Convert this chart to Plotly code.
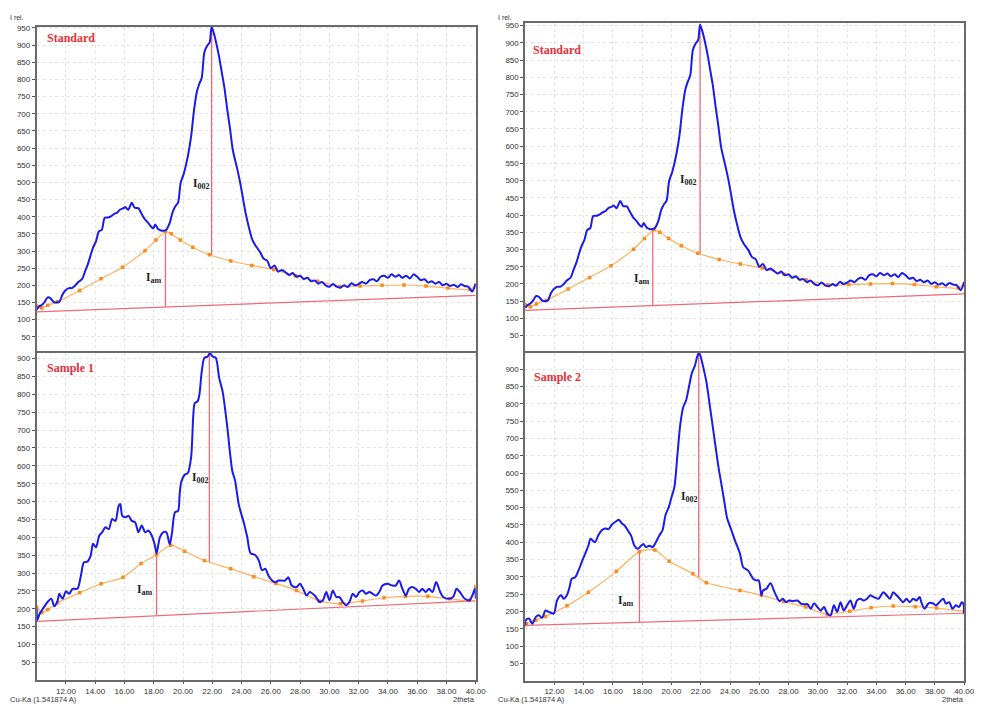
import plotly.graph_objects as go

# ---------------- data ----------------
std_x = [10.0,10.15,10.35,10.55,10.75,10.95,11.15,11.35,11.55,11.75,11.95,12.2,12.4,12.6,12.85,13.1,13.3,13.5,13.7,13.85,
         14.05,14.25,14.45,14.65,14.9,15.1,15.3,15.5,15.7,15.9,16.05,16.25,16.5,16.7,16.95,17.15,17.4,17.6,17.8,17.97,
         18.1,18.3,18.55,18.85,19.1,19.3,19.5,19.66,19.84,20.05,20.33,20.55,20.75,20.95,21.12,21.28,21.46,21.65,21.82,21.95,
         22.1,22.25,22.47,22.65,22.82,23.03,23.2,23.4,23.7,23.9,24.05,24.27,24.45,24.72,24.95,25.28,25.5,25.75,26.0,26.25,
         26.5,26.75,27.0,27.25,27.5,27.75,28.0,28.25,28.5,28.75,29.0,29.25,29.5,29.75,30.0,30.25,30.5,30.75,31.0,31.25,
         31.5,31.75,32.0,32.25,32.5,32.75,33.0,33.25,33.5,33.75,34.0,34.25,34.5,34.75,35.0,35.25,35.5,35.75,36.0,36.25,
         36.5,36.75,37.0,37.25,37.5,37.75,38.0,38.25,38.5,38.75,39.0,39.25,39.5,39.75,40.0]
std_y = [130,138,143,152,165,162,152,150,152,172,185,192,192,198,210,218,240,262,290,310,
         328,357,362,397,398,402,408,412,421,424,428,420,441,426,425,410,392,383,372,366,
         377,364,359,362,383,415,432,441,499,525,576,633,710,765,788,805,879,898,908,953,
         935,910,865,820,778,710,660,595,540,500,465,412,378,335,316,296,278,272,250,258,
         240,245,238,230,236,225,228,218,222,212,214,205,210,200,196,204,196,193,200,195,
         206,200,204,210,205,215,218,212,225,228,222,232,225,230,222,228,220,232,225,215,
         218,208,212,205,210,200,205,198,202,195,203,198,196,182,205]
std_bg_x = [10.0,10.35,10.76,11.43,12.94,14.4,15.87,17.4,18.15,18.8,19.2,19.81,20.67,21.8,23.26,24.7,26.2,27.7,29.2,30.7,32.1,33.6,35.1,36.6,38.1,39.6,40.0]
std_bg_y = [140,134,142,152,185,219,253,301,332,357,350,332,311,289,271,258,246,228,212,197,198,200,201,198,192,188,200]
std_base = [123, 171]
std_iam = [18.8, 137, 357]
std_i002 = [21.95, 287, 953]

s1_x = [10.0,10.04,10.2,10.42,10.65,10.99,11.21,11.43,11.55,11.77,12.0,12.22,12.45,12.78,13.0,13.23,13.46,13.69,13.85,14.05,
        14.28,14.47,14.7,14.93,15.15,15.38,15.6,15.71,15.85,16.05,16.28,16.5,16.73,16.95,17.18,17.41,17.63,17.86,18.08,18.19,
        18.42,18.64,18.86,19.09,19.25,19.45,19.66,19.77,19.88,20.11,20.33,20.55,20.7,20.8,21.0,21.12,21.28,21.46,21.68,21.84,
        22.02,22.24,22.47,22.7,23.03,23.2,23.37,23.55,23.82,24.16,24.39,24.61,24.95,25.18,25.4,25.62,25.85,26.07,26.3,26.53,
        26.75,26.97,27.2,27.43,27.76,27.99,28.21,28.44,28.66,29.0,29.34,29.56,29.79,30.01,30.24,30.47,30.69,30.92,31.14,31.37,
        31.6,31.82,32.05,32.28,32.5,32.73,32.96,33.18,33.41,33.63,33.97,34.31,34.53,34.76,34.99,35.22,35.44,35.67,35.9,36.13,
        36.35,36.58,36.81,37.04,37.3,37.57,37.78,38.12,38.46,38.69,38.91,39.25,39.59,39.81,39.95,40.0]
s1_y = [200,168,186,200,214,228,207,223,242,228,249,242,256,256,288,330,332,349,382,372,
        405,414,428,423,451,446,488,493,460,456,460,446,442,414,433,414,419,405,377,355,
        400,414,414,380,414,470,474,521,555,575,580,623,740,775,781,800,864,902,906,915,
        906,902,846,809,707,640,585,560,490,440,400,356,350,335,308,312,292,280,274,279,
        279,279,288,265,261,270,256,237,247,237,219,224,247,224,251,233,233,219,210,219,
        242,233,247,251,242,247,242,237,247,265,270,265,265,279,256,237,256,261,256,247,
        256,247,256,247,275,247,233,228,233,256,247,228,224,242,256,228]
s1_bg_x = [10.0,10.35,10.76,11.43,12.94,14.4,15.9,17.13,18.19,19.16,20.11,21.46,23.26,24.84,26.35,27.76,29.3,30.76,32.27,33.74,35.2,36.73,38.24,39.59,40.0]
s1_bg_y = [204,189,198,217,245,270,288,327,351,378,361,335,312,290,271,251,222,214,222,231,235,235,228,224,261]
s1_base = [165, 222]
s1_iam = [18.19, 181, 351]
s1_i002 = [21.8, 331, 915]

s2_x = [10.0,10.04,10.26,10.49,10.72,10.94,11.16,11.39,11.61,11.95,12.18,12.45,12.63,12.85,13.03,13.19,13.42,13.64,13.86,14.09,
        14.32,14.47,14.77,14.99,15.22,15.45,15.7,15.95,16.2,16.4,16.6,16.8,17.02,17.24,17.47,17.7,17.92,18.08,18.26,18.49,
        18.71,18.93,19.16,19.38,19.6,19.8,20.0,20.2,20.4,20.6,20.8,21.0,21.2,21.4,21.6,21.75,21.88,22.0,22.2,22.4,
        22.6,22.8,23.0,23.2,23.4,23.6,23.8,24.1,24.34,24.68,24.9,25.24,25.58,25.8,25.96,26.14,26.26,26.49,26.77,27.04,
        27.38,27.61,27.83,28.05,28.28,28.62,28.84,29.07,29.3,29.52,29.74,29.97,30.2,30.42,30.65,30.87,31.1,31.32,31.55,31.77,
        32.0,32.23,32.45,32.68,32.9,33.13,33.36,33.59,33.81,34.15,34.47,34.7,34.93,35.15,35.38,35.6,35.83,36.06,36.28,36.51,
        36.73,36.96,37.07,37.29,37.58,37.85,38.08,38.3,38.57,38.75,38.98,39.2,39.43,39.65,39.83,39.94,40.0]
s2_y = [160,175,180,165,184,189,182,203,199,194,232,247,237,247,270,295,299,318,342,366,
        390,410,400,419,434,440,438,452,460,465,455,448,434,419,390,381,390,395,386,390,
        386,400,419,434,480,500,530,560,650,740,790,810,850,890,910,935,948,935,900,860,
        800,740,680,620,570,520,470,434,405,367,328,318,295,290,290,247,261,266,282,256,
        230,237,227,232,230,232,223,221,221,208,224,213,203,213,194,189,218,199,227,203,
        218,232,208,232,237,232,237,247,242,237,256,247,237,256,247,237,227,237,227,237,
        232,242,227,208,224,224,218,227,237,223,227,208,218,213,227,223,194]
s2_bg_x = [10.0,10.08,10.72,11.39,12.86,14.32,16.23,17.8,18.87,19.84,21.46,22.38,24.68,26.14,27.67,29.18,30.65,32.18,33.64,35.15,36.66,38.12,40.0]
s2_bg_y = [162,165,175,186,217,256,316,373,378,345,309,283,261,247,229,213,192,201,211,216,214,210,201]
s2_base = [160, 195]
s2_iam = [17.81, 169, 373]
s2_i002 = [21.86, 300, 948]

x_ticks = [12, 14, 16, 18, 20, 22, 24, 26, 28, 30, 32, 34, 36, 38, 40]
y_ticks_top = [50, 100, 150, 200, 250, 300, 350, 400, 450, 500, 550, 600, 650, 700, 750, 800, 850, 900, 950]
y_ticks_bot = [50, 100, 150, 200, 250, 300, 350, 400, 450, 500, 550, 600, 650, 700, 750, 800, 850, 900]

# ---------------- figure ----------------
W, H = 982, 704
BLUE = "#1a1aee"
ORANGE_L = "#ffb25c"
ORANGE_M = "#ff8a1c"
RED = "#f06a78"
TITLE_RED = "#e8303a"
SERIF = "Liberation Serif, Times New Roman, serif"
SANS = "Liberation Sans, Arial, sans-serif"

fig = go.Figure()

panels = [
    dict(ax="", bx=std_x, by=std_y, gx=std_bg_x, gy=std_bg_y, base=std_base, iam=std_iam, i002=std_i002,
         box=(37.1, 481.1, 24, 352.5), ytop=953, yt=y_ticks_top, xl=False, title="Standard",
         tpos=(10.58, 921), p002=(21.28, 495), pam=(18.0, 220)),
    dict(ax="2", bx=s1_x, by=s1_y, gx=s1_bg_x, gy=s1_bg_y, base=s1_base, iam=s1_iam, i002=s1_i002,
         box=(37.1, 481.1, 351, 680.2), ytop=917, yt=y_ticks_bot, xl=True, title="Sample 1",
         tpos=(10.58, 874), p002=(21.18, 567), pam=(17.39, 254)),
    dict(ax="3", bx=std_x, by=std_y, gx=std_bg_x, gy=std_bg_y, base=std_base, iam=[18.72, 137, 357], i002=[21.95, 287, 953],
         box=(531.1, 975.1, 20, 351.3), ytop=958, yt=y_ticks_top, xl=False, title="Standard",
         tpos=(10.4, 880), p002=(21.14, 501), pam=(18.0, 215)),
    dict(ax="4", bx=s2_x, by=s2_y, gx=s2_bg_x, gy=s2_bg_y, base=s2_base, iam=s2_iam, i002=s2_i002,
         box=(531.1, 975.1, 351, 680.7), ytop=948, yt=y_ticks_bot, xl=True, title="Sample 2",
         tpos=(10.47, 877), p002=(21.21, 531), pam=(16.92, 229)),
]

layout = {}
for p in panels:
    xa = "x" + p["ax"]
    ya = "y" + p["ax"]
    l, r, t, b = p["box"]
    fig.add_trace(go.Scatter(x=[10, 40], y=p["base"], mode="lines", line=dict(color=RED, width=1.2),
                             xaxis=xa, yaxis=ya, showlegend=False, hoverinfo="skip"))
    fig.add_trace(go.Scatter(x=[p["iam"][0], p["iam"][0]], y=p["iam"][1:], mode="lines",
                             line=dict(color=RED, width=1.3), xaxis=xa, yaxis=ya, showlegend=False))
    fig.add_trace(go.Scatter(x=[p["i002"][0], p["i002"][0]], y=p["i002"][1:], mode="lines",
                             line=dict(color=RED, width=1.3), xaxis=xa, yaxis=ya, showlegend=False))
    fig.add_trace(go.Scatter(x=p["gx"], y=p["gy"], mode="lines+markers",
                             line=dict(color=ORANGE_L, width=1.2, shape="spline", smoothing=0.6),
                             marker=dict(color=ORANGE_M, size=3.5, symbol="square"),
                             xaxis=xa, yaxis=ya, showlegend=False))
    fig.add_trace(go.Scatter(x=p["bx"], y=p["by"], mode="lines",
                             line=dict(color=BLUE, width=2, shape="spline", smoothing=0.8),
                             xaxis=xa, yaxis=ya, showlegend=False))

    layout["xaxis" + p["ax"]] = dict(
        domain=[l / W, r / W], range=[10, 40], anchor=ya,
        tickvals=x_ticks, ticktext=[f"{v:.2f}" for v in x_ticks], showticklabels=p["xl"],
        ticks="outside" if p["xl"] else "", ticklen=2, tickcolor="#555",
        tickfont=dict(family=SANS, size=8, color="#333"),
        showgrid=True, gridcolor="#e4e4e4", griddash="dot", gridwidth=1,
        showline=True, mirror=True, linecolor="#6a6a6a", linewidth=1.6, zeroline=False,
    )
    layout["yaxis" + p["ax"]] = dict(
        domain=[(H - b) / H, (H - t) / H], range=[0, p["ytop"]], anchor=xa,
        tickvals=p["yt"], ticks="outside", ticklen=3, tickcolor="#555",
        tickfont=dict(family=SANS, size=8, color="#333"),
        showgrid=True, gridcolor="#e4e4e4", griddash="dot", gridwidth=1,
        showline=True, mirror=True, linecolor="#6a6a6a", linewidth=1.6, zeroline=False,
    )

fig.update_layout(**layout)

ann = []
for p in panels:
    xa = "x" + p["ax"]
    ya = "y" + p["ax"]
    ann.append(dict(x=p["tpos"][0], y=p["tpos"][1], xref=xa, yref=ya, text="<b>" + p["title"] + "</b>",
                    showarrow=False, xanchor="left", yanchor="middle",
                    font=dict(family=SERIF, size=12, color=TITLE_RED)))
    ann.append(dict(x=p["p002"][0], y=p["p002"][1], xref=xa, yref=ya, text="<b>I<sub>002</sub></b>",
                    showarrow=False, xanchor="center", yanchor="middle",
                    font=dict(family=SERIF, size=11.5, color="#222")))
    ann.append(dict(x=p["pam"][0], y=p["pam"][1], xref=xa, yref=ya, text="<b>I<sub>am</sub></b>",
                    showarrow=False, xanchor="center", yanchor="middle",
                    font=dict(family=SERIF, size=11.5, color="#222")))

for xpx in (8, 502):
    ann.append(dict(x=xpx / W, y=(H - 15) / H, xref="paper", yref="paper", text="I rel.", showarrow=False,
                    xanchor="left", yanchor="middle", font=dict(family=SANS, size=7, color="#333")))
    ann.append(dict(x=xpx / W, y=(H - 699) / H, xref="paper", yref="paper", text="Cu-Ka (1.541874 A)",
                    showarrow=False, xanchor="left", yanchor="middle", font=dict(family=SANS, size=7.5, color="#333")))
for xpx in (482, 977):
    ann.append(dict(x=xpx / W, y=(H - 699) / H, xref="paper", yref="paper", text="2theta", showarrow=False,
                    xanchor="right", yanchor="middle", font=dict(family=SANS, size=7.5, color="#333")))

fig.update_layout(width=W, height=H, margin=dict(l=0, r=0, t=0, b=0), autosize=False,
                  paper_bgcolor="white", plot_bgcolor="white", annotations=ann, showlegend=False)

fig.write_html("out.html", config={"displayModeBar": False},
               post_script="document.body.style.margin='0';document.body.style.overflow='hidden';")
